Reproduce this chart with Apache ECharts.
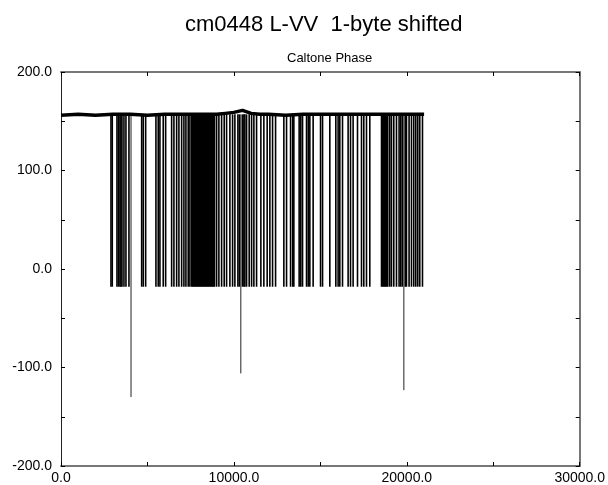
<!DOCTYPE html>
<html>
<head>
<meta charset="utf-8">
<script src="https://cdn.jsdelivr.net/npm/echarts@6/dist/echarts.min.js"></script>
<style>
html,body{margin:0;padding:0;background:#fff;}
#main{width:608px;height:485px;}
</style>
</head>
<body>
<div id="main"></div>
<script>
// flat top trace (phase level before the drop-outs)
var baseX = [0, 1000, 2000, 3000, 4000, 5000, 6000, 7000, 8000, 9000, 9500, 10000, 10500, 11000, 11500, 12000, 13000, 14000, 15000, 16000, 17000, 18000, 19000, 20000, 21000];
var baseY = [156, 157, 156, 157, 157, 156, 157, 157, 157, 157, 158, 159, 161, 158, 157, 157, 156, 157, 157, 157, 157, 157, 157, 157, 157];

// drop-outs to about -18
var spikeX = [2890, 2965, 3237, 3324, 3410, 3468, 3526, 3641, 3757, 3930,
	4665, 4757, 4896, 5491, 5624, 5722, 5913, 6052, 6398, 6531, 6688, 6820, 6977, 7109, 7225, 7358, 7456,
	7560, 7615, 7675, 7730, 7790, 7845, 7905, 7960, 8020, 8075, 8135, 8190, 8250, 8305, 8365, 8420, 8480, 8535, 8595, 8650, 8710, 8765, 8825, 8880,
	9000, 9132, 9288, 9439, 9577, 9768, 9924, 10057, 10231, 10317, 10491, 10577, 10635, 10733, 10884, 11022, 11155, 11311,
	11560, 11733, 11924, 12080, 12236, 12410, 12889, 13045, 13277, 13400, 13467, 13774, 13870, 13970, 14201, 14300, 14392, 14583,
	15011, 15127, 15548, 15895, 16028, 16126, 16282, 16606, 16745, 16895, 17149, 17380, 17513, 17669, 17860,
	18537, 18600, 18660, 18720, 18780, 18840, 18900, 19016, 19114, 19247, 19403, 19554, 19650, 19740, 19910, 19981,
	20132, 20271, 20403, 20520, 20635, 20750, 20907];
var spikeTop = 157;
var spikeLow = -18;

// three deep drop-outs
var deepX = [4050, 10400, 19830];
var deepY = [-130, -106, -123];

var xTickLabels = ['0.0', '10000.0', '20000.0', '30000.0'];
var yTickLabels = ['-200.0', '-100.0', '0.0', '100.0', '200.0'];

var myChart = echarts.init(document.getElementById('main'));

var baseData = [];
for (var i = 0; i < baseX.length; i++) {
	baseData.push([baseX[i], baseY[i]]);
}
var spikeData = [];
for (var j = 0; j < spikeX.length; j++) {
	spikeData.push([spikeX[j], spikeTop, spikeLow]);
}
var deepData = [];
for (var k = 0; k < deepX.length; k++) {
	deepData.push([deepX[k], spikeTop, deepY[k]]);
}

function spikeRenderer(width, color) {
	return function(params, api) {
		var p0 = api.coord([api.value(0), api.value(1)]);
		var p1 = api.coord([api.value(0), api.value(2)]);
		return {
			type: 'line',
			shape: {x1: p0[0], y1: p0[1], x2: p0[0], y2: p1[1]},
			style: {stroke: color, lineWidth: width}
		};
	};
}

var fontName = 'Liberation Sans';
var frameLine = {show: true, onZero: false, lineStyle: {color: '#777', width: 2}};
var tickIn = {show: true, inside: true, length: 4, lineStyle: {color: '#000', width: 1}};

var option = {
	animation: false,
	backgroundColor: '#fff',
	title: [{
		text: 'cm0448 L-VV  1-byte shifted',
		left: 180,
		top: 9,
		textStyle: {fontFamily: fontName, fontSize: 22, fontWeight: 'normal', color: '#000'}
	}, {
		text: 'Caltone Phase',
		left: 282,
		top: 47,
		textStyle: {fontFamily: fontName, fontSize: 13, fontWeight: 'normal', color: '#000'}
	}],
	grid: {left: 61, right: 28, top: 72, bottom: 19, containLabel: false},
	xAxis: [{
		type: 'value',
		min: 0,
		max: 30000,
		interval: 5000,
		position: 'bottom',
		axisLine: frameLine,
		axisTick: tickIn,
		splitLine: {show: false},
		axisLabel: {
			margin: 5,
			color: '#000',
			fontFamily: fontName,
			fontSize: 14,
			showMaxLabel: true,
			formatter: function(v) {
				return v % 10000 === 0 ? xTickLabels[v / 10000] : '';
			}
		}
	}, {
		type: 'value',
		min: 0,
		max: 30000,
		interval: 5000,
		position: 'top',
		axisLine: frameLine,
		axisTick: tickIn,
		splitLine: {show: false},
		axisLabel: {show: false}
	}],
	yAxis: [{
		type: 'value',
		min: -200,
		max: 200,
		interval: 50,
		position: 'left',
		axisLine: {show: true, onZero: false, lineStyle: {color: '#222', width: 1}},
		axisTick: tickIn,
		splitLine: {show: false},
		axisLabel: {
			margin: 9,
			color: '#000',
			fontFamily: fontName,
			fontSize: 14,
			formatter: function(v) {
				return v % 100 === 0 ? yTickLabels[(v + 200) / 100] : '';
			}
		}
	}, {
		type: 'value',
		min: -200,
		max: 200,
		interval: 50,
		position: 'right',
		axisLine: frameLine,
		axisTick: tickIn,
		splitLine: {show: false},
		axisLabel: {show: false}
	}],
	series: [{
		name: 'spikes',
		type: 'custom',
		renderItem: spikeRenderer(1.6, '#000'),
		encode: {x: 0, y: [1, 2]},
		data: spikeData,
		z: 2
	}, {
		name: 'deep',
		type: 'custom',
		renderItem: spikeRenderer(1, '#222'),
		encode: {x: 0, y: [1, 2]},
		data: deepData,
		z: 2
	}, {
		name: 'phase',
		type: 'line',
		showSymbol: false,
		data: baseData,
		lineStyle: {color: '#000', width: 3.5},
		z: 3
	}]
};
myChart.setOption(option, true);
</script>
</body>
</html>
